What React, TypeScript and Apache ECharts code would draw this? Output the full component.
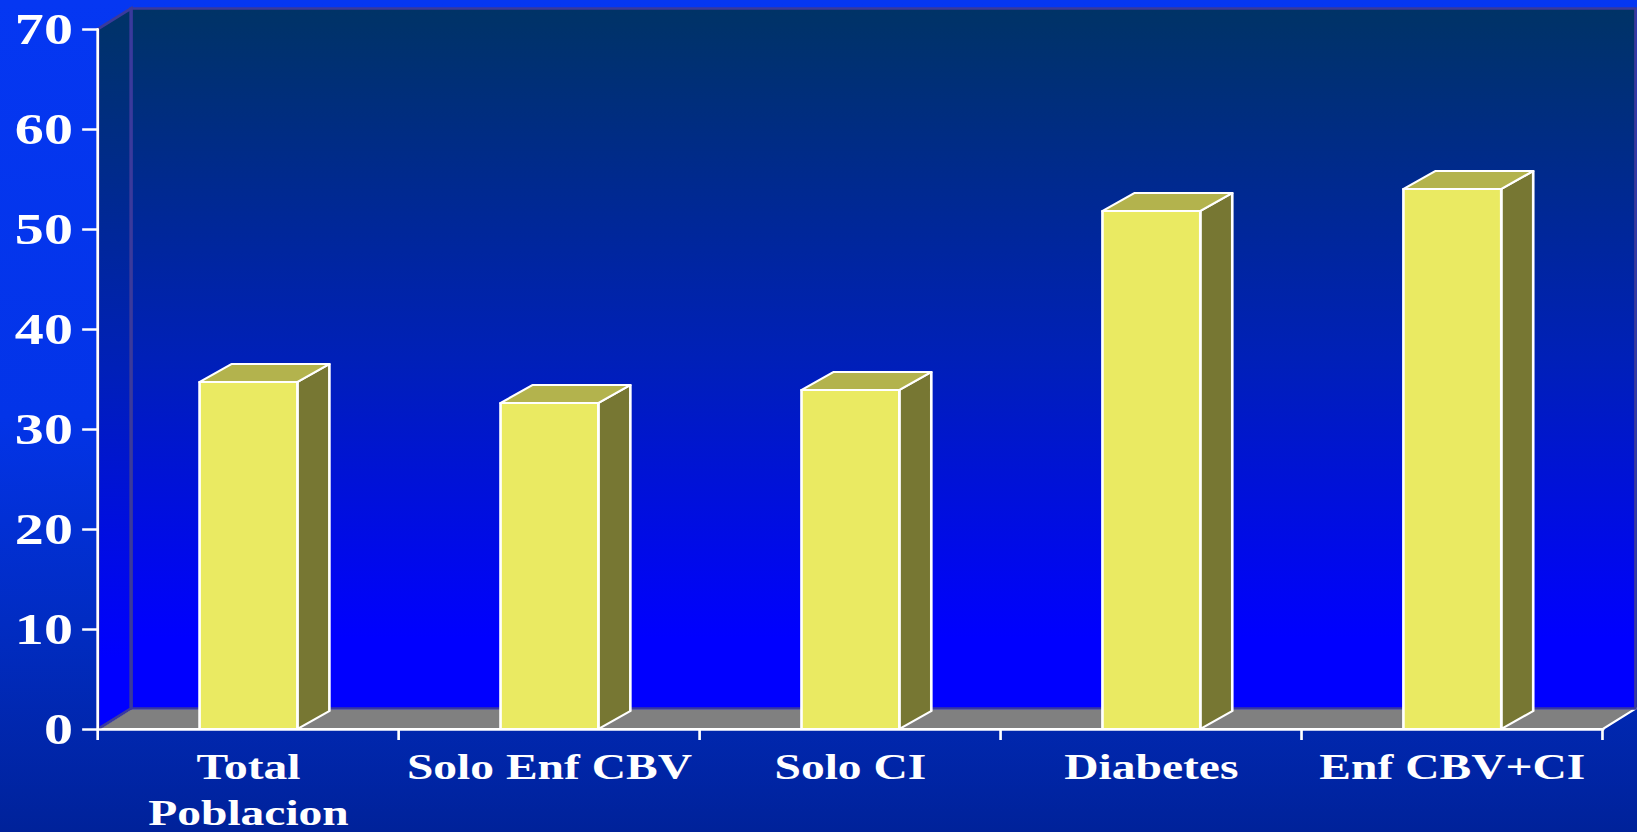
import React, { useEffect, useRef } from "react";
import * as echarts from "echarts";

// ---- data ----
const categories = ["Total\nPoblacion", "Solo Enf CBV", "Solo CI", "Diabetes", "Enf CBV+CI"];
const values = [34.7, 32.6, 33.9, 51.8, 54.0];
const yMin = 0;
const yMax = 70;
const yStep = 10;

// ---- layout (the original is horizontally stretched) ----
const S = 1.32;
const PAGE_W = 1637;
const PAGE_H = 832;
const CHART_W = PAGE_W / S;
const FONT = '"Liberation Serif", "Times New Roman", serif';

export default function App() {
  const ref = useRef<HTMLDivElement>(null);

  useEffect(() => {
    const chart = echarts.init(ref.current!, null, { renderer: "svg" });
    const wallDX = 33 / S;
    const wallDY = -20.5;
    const barDX = 32 / S;
    const barDY = -18;

    const wallFill = () =>
      new echarts.graphic.LinearGradient(0, 0, 0, 1, [
        { offset: 0, color: "#003366" },
        { offset: 0.5, color: "#0020b8" },
        { offset: 0.9, color: "#0000ff" },
        { offset: 1, color: "#0000ff" },
      ]);

    const option: any = {
      animation: false,
      grid: {
        left: 98 / S,
        right: CHART_W - 1603 / S,
        top: 29,
        bottom: PAGE_H - 729,
        containLabel: false,
        outerBoundsMode: "none",
      },
      xAxis: {
        type: "category",
        data: categories,
        z: 6,
        boundaryGap: true,
        axisLine: { show: true, lineStyle: { color: "#ffffff", width: 2.5 } },
        axisTick: { show: true, length: 11, alignWithLabel: false, lineStyle: { color: "#ffffff", width: 2 } },
        axisLabel: {
          interval: 0,
          margin: 15,
          color: "#ffffff",
          fontFamily: FONT,
          fontWeight: "bold",
          fontSize: 36,
          lineHeight: 46,
        },
        splitLine: { show: false },
      },
      yAxis: {
        type: "value",
        min: yMin,
        max: yMax,
        interval: yStep,
        z: 6,
        axisLine: { show: true, lineStyle: { color: "#ffffff", width: 2 } },
        axisTick: { show: true, length: 12, lineStyle: { color: "#ffffff", width: 2.5 } },
        axisLabel: {
          margin: 19,
          color: "#ffffff",
          fontFamily: FONT,
          fontWeight: "bold",
          fontSize: 44,
        },
        splitLine: { show: false },
      },
      series: [
        {
          type: "custom",
          name: "walls",
          z: 1,
          clip: false,
          silent: true,
          data: [[0, 0]],
          encode: { x: 0, y: 1 },
          renderItem: (params: any, api: any) => {
            const cs = params.coordSys;
            const x0 = cs.x;
            const y0 = cs.y;
            const x1 = cs.x + cs.width;
            const y1 = cs.y + cs.height;
            return {
              type: "group",
              children: [
                {
                  type: "polygon",
                  shape: {
                    points: [
                      [x0, y1],
                      [x0 + wallDX, y1 + wallDY],
                      [x1 + wallDX, y1 + wallDY],
                      [x1, y1],
                    ],
                  },
                  style: { fill: "#808080", stroke: "#ffffff", lineWidth: 2 },
                },
                {
                  type: "polygon",
                  shape: {
                    points: [
                      [x0 + wallDX, y0 + wallDY],
                      [x1 + wallDX, y0 + wallDY],
                      [x1 + wallDX, y1 + wallDY],
                      [x0 + wallDX, y1 + wallDY],
                    ],
                  },
                  style: { fill: wallFill(), stroke: "#3a3a9c", lineWidth: 2.5 },
                },
                {
                  type: "polygon",
                  shape: {
                    points: [
                      [x0, y0],
                      [x0 + wallDX, y0 + wallDY],
                      [x0 + wallDX, y1 + wallDY],
                      [x0, y1],
                    ],
                  },
                  style: { fill: wallFill(), stroke: "#3a3a9c", lineWidth: 2.5 },
                },
              ],
            };
          },
        },
        {
          type: "custom",
          name: "bars",
          z: 3,
          clip: false,
          data: values.map((v, i) => [i, v]),
          encode: { x: 0, y: 1 },
          renderItem: (params: any, api: any) => {
            const idx = api.value(0);
            const val = api.value(1);
            const top = api.coord([idx, val]);
            const base = api.coord([idx, 0]);
            const band = api.size([1, 0])[0];
            const bw = band * 0.325;
            const l = top[0] - bw / 2;
            const r = top[0] + bw / 2;
            const ty = top[1];
            const by = base[1];
            const st = { stroke: "#ffffff", lineWidth: 2, lineJoin: "round" };
            return {
              type: "group",
              children: [
                {
                  type: "polygon",
                  shape: {
                    points: [
                      [r, ty],
                      [r + barDX, ty + barDY],
                      [r + barDX, by + barDY],
                      [r, by],
                    ],
                  },
                  style: { fill: "#777733", ...st },
                },
                {
                  type: "polygon",
                  shape: {
                    points: [
                      [l, ty],
                      [l + barDX, ty + barDY],
                      [r + barDX, ty + barDY],
                      [r, ty],
                    ],
                  },
                  style: { fill: "#b3b34d", ...st },
                },
                {
                  type: "rect",
                  shape: { x: l, y: ty, width: bw, height: by - ty },
                  style: { fill: "#eaea62", ...st },
                },
              ],
            };
          },
        },
      ],
    };

    chart.setOption(option);
    return () => chart.dispose();
  }, []);

  return (
    <div
      style={{
        position: "fixed",
        left: 0,
        top: 0,
        width: PAGE_W,
        height: PAGE_H,
        overflow: "hidden",
        background:
          "linear-gradient(to bottom, #0537f2 0%, #0334e8 50%, #012cc2 75%, #00229a 100%)",
      }}
    >
      <div
        ref={ref}
        style={{
          width: CHART_W,
          height: PAGE_H,
          transform: `scaleX(${S})`,
          transformOrigin: "0 0",
        }}
      />
    </div>
  );
}
